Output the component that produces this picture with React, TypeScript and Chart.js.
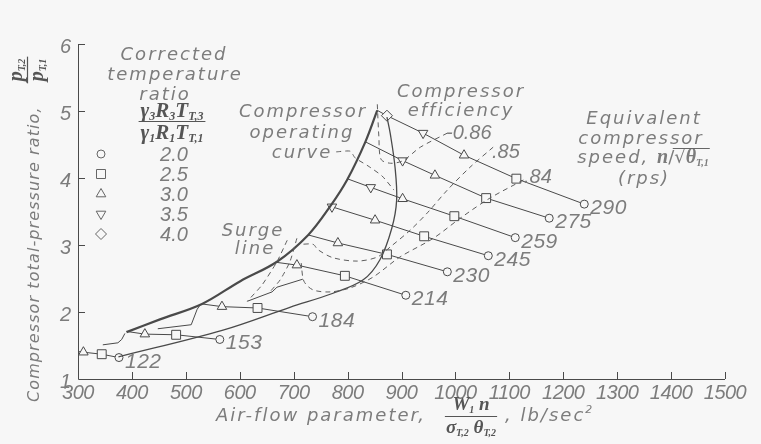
import React, { useEffect, useRef } from 'react';
import { Chart, registerables } from 'chart.js';

Chart.register(...registerables);

// Axis ticks
const xTicks = [300, 400, 500, 600, 700, 800, 900, 1000, 1100, 1200, 1300, 1400, 1500];
const yTicks = [1, 2, 3, 4, 5, 6];

// Marker codes: o = 2.0, s = 2.5, ^ = 3.0, v = 3.5, d = 4.0, '-' = no marker
const ratioLabels = ['2.0', '2.5', '3.0', '3.5', '4.0'];
const ratioMarks = ['o', 's', '^', 'v', 'd'];

// Equivalent compressor speed lines, n/sqrt(theta) in rps
const speedNames = ['122', '153', '184', '214', '230', '245', '259', '275', '290'];

const flow122 = [300, 310, 344, 376];
const pr122 = [1.41, 1.40, 1.37, 1.32];
const mk122 = ['-', '^', 's', 'o'];

const flow153 = [390, 424, 482, 563];
const pr153 = [1.71, 1.67, 1.66, 1.59];
const mk153 = ['-', '^', 's', 'o'];

const flow184 = [530, 567, 633, 735];
const pr184 = [2.12, 2.08, 2.06, 1.93];
const mk184 = ['-', '^', 's', 'o'];

const flow214 = [669, 706, 795, 908];
const pr214 = [2.74, 2.70, 2.54, 2.25];
const mk214 = ['-', '^', 's', 'o'];

const flow230 = [727, 782, 873, 985];
const pr230 = [3.15, 3.03, 2.86, 2.60];
const mk230 = ['-', '^', 's', 'o'];

const flow245 = [771, 851, 942, 1061];
const pr245 = [3.57, 3.37, 3.13, 2.84];
const mk245 = ['v', '^', 's', 'o'];

const flow259 = [799, 843, 902, 998, 1111];
const pr259 = [3.99, 3.86, 3.69, 3.43, 3.11];
const mk259 = ['-', 'v', '^', 's', 'o'];

const flow275 = [833, 902, 962, 1057, 1174];
const pr275 = [4.54, 4.26, 4.04, 3.70, 3.40];
const mk275 = ['-', 'v', '^', 's', 'o'];

const flow290 = [855, 873, 940, 1016, 1113, 1239];
const pr290 = [5.01, 4.93, 4.67, 4.34, 3.99, 3.61];
const mk290 = ['-', 'd', 'v', '^', 's', 'o'];

// Heavy curve through the left ends of the speed lines
const flowOperating = [390, 452, 530, 601, 669, 727, 768, 799, 833, 855];
const prOperating = [1.70, 1.89, 2.12, 2.46, 2.75, 3.15, 3.58, 3.97, 4.54, 5.01];

// Light solid curve
const flowSurge = [375, 569, 693, 773, 829, 860, 882, 891, 888, 879, 873];
const prSurge = [1.33, 1.73, 2.07, 2.28, 2.48, 2.78, 3.25, 3.67, 4.16, 4.67, 4.91];

// Short solid step segments below the heavy curve
const flowStepA = [346, 374, 381, 387];
const prStepA = [1.51, 1.54, 1.59, 1.68];
const flowStepB = [448, 510, 521, 526];
const prStepB = [1.75, 1.81, 2.04, 2.10];
const flowStepC = [614, 660, 669, 717];
const prStepC = [2.16, 2.30, 2.37, 2.49];

// Compressor efficiency contours (dashed)
const flowEff86 = [985, 935, 903, 880, 862, 858, 855];
const prEff86 = [4.67, 4.46, 4.26, 4.22, 4.28, 4.62, 5.12];
const flowEff85 = [1070, 1027, 985, 948, 916, 879, 855, 818, 773, 745, 736, 712];
const prEff85 = [4.46, 4.16, 3.82, 3.48, 3.22, 2.97, 2.82, 2.76, 2.81, 2.93, 3.01, 3.01];
const flowEff84 = [1126, 1064, 1009, 959, 897, 847, 805, 768, 736, 719, 714];
const prEff84 = [3.97, 3.70, 3.40, 3.10, 2.82, 2.52, 2.36, 2.30, 2.33, 2.46, 2.73];

// Other dashed lines near the heavy curve
const flowDashA = [688, 669, 641, 614];
const prDashA = [3.07, 2.75, 2.40, 2.16];
const flowDashB = [706, 693, 675, 656];
const prDashB = [3.10, 2.75, 2.48, 2.30];
const flowLeader = [779, 805, 814, 838, 864, 886];
const prLeader = [4.39, 4.40, 4.30, 4.18, 4.03, 3.82];

const INK = '#4a4a4a';
const TEXT = '#7c7c7c';
const SANS = "'DejaVu Sans', sans-serif";
const DIGIT = "'Liberation Sans', Arial, sans-serif";
const SERIF = "'Liberation Serif', 'DejaVu Serif', serif";

const pts = (xs: number[], ys: number[]) => xs.map((x, i) => ({ x, y: ys[i] }));

function markerStyle(m: string) {
  switch (m) {
    case 'o': return { style: 'circle', r: 4, rot: 0 };
    case 's': return { style: 'rect', r: 6.3, rot: 0 };
    case '^': return { style: 'triangle', r: 5.5, rot: 0 };
    case 'v': return { style: 'triangle', r: 5.5, rot: 180 };
    case 'd': return { style: 'rectRot', r: 5.5, rot: 0 };
    default: return { style: 'circle', r: 0, rot: 0 };
  }
}

function speedDataset(xs: number[], ys: number[], marks: string[]) {
  const st = marks.map(markerStyle);
  return {
    data: pts(xs, ys),
    showLine: true,
    borderColor: INK,
    borderWidth: 1,
    backgroundColor: '#f7f7f7',
    pointBorderColor: INK,
    pointBorderWidth: 1,
    pointBackgroundColor: '#f7f7f7',
    pointStyle: st.map((s) => s.style),
    pointRadius: st.map((s) => s.r),
    pointRotation: st.map((s) => s.rot),
    tension: 0,
  };
}

function curveDataset(xs: number[], ys: number[], width: number, dash: number[] = [], tension = 0.35) {
  return {
    data: pts(xs, ys),
    showLine: true,
    borderColor: dash.length ? '#5e5e5e' : INK,
    borderWidth: width,
    borderDash: dash,
    pointRadius: 0,
    tension,
    cubicInterpolationMode: 'default',
  };
}

type Run = { t: string; f: string; dy?: number; ls?: number };

function runsWidth(ctx: CanvasRenderingContext2D, runs: Run[]) {
  let w = 0;
  for (const r of runs) {
    ctx.font = r.f;
    (ctx as any).letterSpacing = (r.ls ?? 0) + 'px';
    w += ctx.measureText(r.t).width;
  }
  return w;
}

function drawRuns(ctx: CanvasRenderingContext2D, runs: Run[], x: number, y: number, align: 'left' | 'center' | 'right' = 'left') {
  const w = runsWidth(ctx, runs);
  let cx = align === 'center' ? x - w / 2 : align === 'right' ? x - w : x;
  ctx.textAlign = 'left';
  ctx.textBaseline = 'alphabetic';
  for (const r of runs) {
    ctx.font = r.f;
    (ctx as any).letterSpacing = (r.ls ?? 0) + 'px';
    ctx.fillText(r.t, cx, y + (r.dy ?? 0));
    cx += ctx.measureText(r.t).width;
  }
  (ctx as any).letterSpacing = '0px';
  return w;
}

function label(ctx: CanvasRenderingContext2D, t: string, x: number, y: number, align: 'left' | 'center' | 'right' = 'center', size = 18, ls = 2) {
  drawRuns(ctx, [{ t, f: `oblique ${size}px ${SANS}`, ls }], x, y, align);
}

function drawMarker(ctx: CanvasRenderingContext2D, m: string, x: number, y: number) {
  ctx.beginPath();
  if (m === 'o') ctx.arc(x, y, 4, 0, Math.PI * 2);
  if (m === 's') ctx.rect(x - 4.5, y - 4.5, 9, 9);
  if (m === '^') { ctx.moveTo(x, y - 5.5); ctx.lineTo(x + 4.8, y + 2.8); ctx.lineTo(x - 4.8, y + 2.8); ctx.closePath(); }
  if (m === 'v') { ctx.moveTo(x, y + 5.5); ctx.lineTo(x + 4.8, y - 2.8); ctx.lineTo(x - 4.8, y - 2.8); ctx.closePath(); }
  if (m === 'd') { ctx.moveTo(x, y - 5.5); ctx.lineTo(x + 5.5, y); ctx.lineTo(x, y + 5.5); ctx.lineTo(x - 5.5, y); ctx.closePath(); }
  ctx.stroke();
}

const decorations = {
  id: 'decorations',
  beforeDraw(chart: any) {
    const { ctx, width, height } = chart;
    ctx.save();
    ctx.fillStyle = '#f7f7f7';
    ctx.fillRect(0, 0, width, height);
    ctx.restore();
  },
  afterDraw(chart: any) {
    const { ctx, chartArea: a, scales } = chart;
    const xs = scales.x;
    const ys = scales.y;
    ctx.save();

    // axes with inward ticks
    ctx.strokeStyle = INK;
    ctx.lineWidth = 1;
    ctx.beginPath();
    ctx.moveTo(a.left + 0.5, ys.getPixelForValue(6));
    ctx.lineTo(a.left + 0.5, a.bottom + 0.5);
    ctx.lineTo(xs.getPixelForValue(1500), a.bottom + 0.5);
    for (const v of yTicks.slice(1)) {
      const py = Math.round(ys.getPixelForValue(v)) + 0.5;
      ctx.moveTo(a.left, py);
      ctx.lineTo(a.left + 7, py);
    }
    for (const v of xTicks.slice(1)) {
      const px = Math.round(xs.getPixelForValue(v)) + 0.5;
      ctx.moveTo(px, a.bottom);
      ctx.lineTo(px, a.bottom - 7);
    }
    ctx.stroke();

    ctx.fillStyle = TEXT;
    const digitFont = `italic 20px ${DIGIT}`;
    for (const v of xTicks) {
      drawRuns(ctx, [{ t: String(v), f: digitFont, ls: -0.5 }], xs.getPixelForValue(v), a.bottom + 20, 'center');
    }
    for (const v of yTicks) {
      drawRuns(ctx, [{ t: String(v), f: digitFont }], a.left - 7, ys.getPixelForValue(v) + 9, 'right');
    }

    // speed labels next to end circles
    const ends: [number, number][] = [
      [flow122[3], pr122[3]], [flow153[3], pr153[3]], [flow184[3], pr184[3]],
      [flow214[3], pr214[3]], [flow230[3], pr230[3]], [flow245[3], pr245[3]],
      [flow259[4], pr259[4]], [flow275[4], pr275[4]], [flow290[5], pr290[5]],
    ];
    ends.forEach(([fx, fy], i) => {
      const px = xs.getPixelForValue(fx);
      const py = ys.getPixelForValue(fy);
      drawRuns(ctx, [{ t: speedNames[i], f: `italic 21px ${DIGIT}`, ls: 0.5 }], px + 6, py + 10, 'left');
    });

    // legend block
    label(ctx, 'Corrected', 174, 60);
    label(ctx, 'temperature', 175, 80);
    label(ctx, 'ratio', 165, 100);
    const bi = `bold italic 21px ${SERIF}`;
    const sub = `bold italic 12px ${SERIF}`;
    const fracNum: Run[] = [
      { t: 'γ', f: bi }, { t: '3', f: sub, dy: 3 }, { t: 'R', f: bi }, { t: '3', f: sub, dy: 3 },
      { t: 'T', f: bi }, { t: 'T,3', f: sub, dy: 3 },
    ];
    const fracDen: Run[] = [
      { t: 'γ', f: bi }, { t: '1', f: sub, dy: 3 }, { t: 'R', f: bi }, { t: '1', f: sub, dy: 3 },
      { t: 'T', f: bi }, { t: 'T,1', f: sub, dy: 3 },
    ];
    ctx.fillStyle = '#555';
    const fw = drawRuns(ctx, fracNum, 172, 117, 'center');
    drawRuns(ctx, fracDen, 172, 139, 'center');
    ctx.strokeStyle = '#555';
    ctx.lineWidth = 1.2;
    ctx.beginPath();
    ctx.moveTo(172 - fw / 2 - 2, 121.5);
    ctx.lineTo(172 + fw / 2 + 2, 121.5);
    ctx.stroke();
    ctx.fillStyle = TEXT;
    ctx.strokeStyle = '#666';
    ctx.lineWidth = 1;
    ratioLabels.forEach((t, i) => {
      const yy = 154 + i * 20;
      drawMarker(ctx, ratioMarks[i], 101, yy);
      drawRuns(ctx, [{ t, f: `italic 20px ${DIGIT}` }], 174, yy + 7, 'center');
    });

    // curve annotations
    label(ctx, 'Compressor', 303, 117);
    label(ctx, 'operating', 302, 138);
    label(ctx, 'curve', 302, 158);
    label(ctx, 'Surge', 253, 236);
    label(ctx, 'line', 255, 254);
    label(ctx, 'Compressor', 461, 97);
    label(ctx, 'efficiency', 461, 116);
    drawRuns(ctx, [{ t: '-0.86', f: `italic 20px ${DIGIT}` }], 446, 139, 'left');
    drawRuns(ctx, [{ t: '.85', f: `italic 20px ${DIGIT}` }], 492, 158, 'left');
    drawRuns(ctx, [{ t: '.84', f: `italic 20px ${DIGIT}` }], 524, 183, 'left');

    label(ctx, 'Equivalent', 644, 124);
    label(ctx, 'compressor', 641, 144);
    const sp = `oblique 18px ${SANS}`;
    const spW = drawRuns(ctx, [
      { t: 'speed, ', f: sp, ls: 2 }, { t: 'n', f: `bold italic 20px ${SERIF}` },
      { t: '/√', f: `18px ${SANS}` }, { t: 'θ', f: `bold italic 20px ${SERIF}` },
      { t: 'T,1', f: `bold italic 10px ${SERIF}`, dy: 3 },
    ], 643, 163, 'center');
    ctx.strokeStyle = '#666';
    ctx.beginPath();
    ctx.moveTo(643 + spW / 2 - 36, 148.5);
    ctx.lineTo(643 + spW / 2 + 1, 148.5);
    ctx.stroke();
    label(ctx, '(rps)', 644, 184);

    // x-axis title
    drawRuns(ctx, [{ t: 'Air-flow parameter,', f: sp, ls: 2 }], 426, 421, 'right');
    ctx.fillStyle = '#555';
    const xb = `bold italic 19px ${SERIF}`;
    const xs1 = `bold italic 10px ${SERIF}`;
    const nw = drawRuns(ctx, [{ t: 'W', f: xb }, { t: '1', f: xs1, dy: 3 }, { t: ' n', f: xb }], 471, 410, 'center');
    const dw = drawRuns(ctx, [
      { t: 'σ', f: xb }, { t: 'T,2', f: xs1, dy: 3 }, { t: ' θ', f: xb }, { t: 'T,2', f: xs1, dy: 3 },
    ], 471, 433, 'center');
    ctx.strokeStyle = '#555';
    ctx.lineWidth = 1.2;
    ctx.beginPath();
    const bw = Math.max(nw, dw);
    ctx.moveTo(471 - bw / 2 - 1, 416.5);
    ctx.lineTo(471 + bw / 2 + 1, 416.5);
    ctx.stroke();
    ctx.fillStyle = TEXT;
    drawRuns(ctx, [{ t: ', lb/sec', f: sp, ls: 2 }, { t: '2', f: `oblique 11px ${SANS}`, dy: -8 }], 505, 421, 'left');

    // y-axis title, rotated
    ctx.save();
    ctx.translate(39, 402);
    ctx.rotate(-Math.PI / 2);
    ctx.fillStyle = TEXT;
    drawRuns(ctx, [{ t: 'Compressor total-pressure ratio,', f: `oblique 16px ${SANS}`, ls: 1.1 }], 0, 0, 'left');
    ctx.fillStyle = '#555';
    const yb = `bold italic 20px ${SERIF}`;
    const ysb = `bold italic 10px ${SERIF}`;
    const pw = drawRuns(ctx, [{ t: 'p', f: yb }, { t: 'T,2', f: ysb, dy: 3 }], 332, -17, 'center');
    drawRuns(ctx, [{ t: 'p', f: yb }, { t: 'T,1', f: ysb, dy: 3 }], 332, 4, 'center');
    ctx.strokeStyle = '#555';
    ctx.lineWidth = 1.2;
    ctx.beginPath();
    ctx.moveTo(332 - pw / 2 - 2, -11.5);
    ctx.lineTo(332 + pw / 2 + 2, -11.5);
    ctx.stroke();
    ctx.restore();

    ctx.restore();
  },
};

export default function App() {
  const ref = useRef<HTMLCanvasElement>(null);
  useEffect(() => {
    if (!ref.current) return;
    const dash = [5, 4];
    const chart = new Chart(ref.current, {
      type: 'scatter',
      data: {
        datasets: [
          curveDataset(flowEff86, prEff86, 1, dash, 0.3),
          curveDataset(flowEff85, prEff85, 1, dash, 0.3),
          curveDataset(flowEff84, prEff84, 1, dash, 0.3),
          curveDataset(flowDashA, prDashA, 1, dash, 0.2),
          curveDataset(flowDashB, prDashB, 1, dash, 0.2),
          curveDataset(flowLeader, prLeader, 1, dash, 0.2),
          curveDataset(flowStepA, prStepA, 1, [], 0),
          curveDataset(flowStepB, prStepB, 1, [], 0),
          curveDataset(flowStepC, prStepC, 1, [], 0),
          curveDataset(flowSurge, prSurge, 1.3, [], 0.35),
          curveDataset(flowOperating, prOperating, 2.2, [], 0.35),
          speedDataset(flow122, pr122, mk122),
          speedDataset(flow153, pr153, mk153),
          speedDataset(flow184, pr184, mk184),
          speedDataset(flow214, pr214, mk214),
          speedDataset(flow230, pr230, mk230),
          speedDataset(flow245, pr245, mk245),
          speedDataset(flow259, pr259, mk259),
          speedDataset(flow275, pr275, mk275),
          speedDataset(flow290, pr290, mk290),
        ] as any,
      },
      options: {
        responsive: false,
        animation: false,
        devicePixelRatio: 1,
        layout: { padding: { left: 78, right: 36, top: 44, bottom: 65 } },
        plugins: { legend: { display: false }, tooltip: { enabled: false } },
        scales: {
          x: { type: 'linear', min: 300, max: 1500, display: false },
          y: { type: 'linear', min: 1, max: 6, display: false },
        },
      },
      plugins: [decorations],
    });
    return () => chart.destroy();
  }, []);
  return (
    <div style={{ position: 'absolute', left: 0, top: 0, width: 761, height: 444 }}>
      <canvas ref={ref} width={761} height={444} />
    </div>
  );
}
